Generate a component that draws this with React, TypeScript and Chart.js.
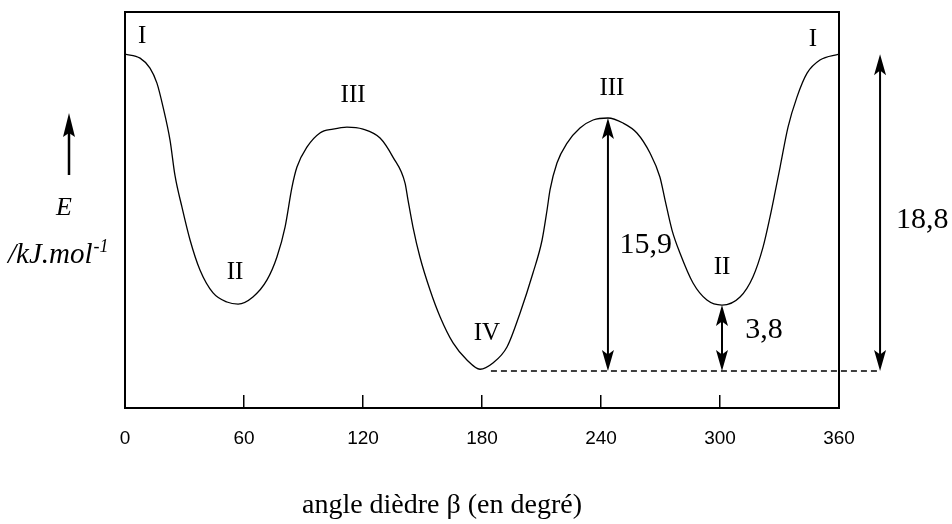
import React, { useEffect, useRef } from "react";
import { Chart, registerables } from "chart.js";

Chart.register(...registerables);

// dihedral angle beta (degrees)
const angles = [
  0, 7.6, 12.6, 16.1, 19.2, 22.7, 25.2, 28.7, 32.8, 37.8, 44.4, 51.4, 57.0,
  64.5, 71.6, 76.6, 80.7, 84.2, 86.7, 91.8, 98.3, 104.9, 111.9, 120.0, 128.6,
  135.1, 141.2, 142.7, 145.2, 148.7, 153.8, 158.9, 165.4, 172.4, 179.0, 185.5,
  192.6, 199.2, 205.7, 210.3, 212.8, 214.3, 217.8, 222.9, 229.4, 236.0, 243.5,
  251.1, 258.1, 264.7, 269.7, 272.3, 275.8, 279.8, 286.4, 293.4, 301.0, 310.1,
  316.6, 321.7, 325.2, 327.7, 330.3, 334.3, 338.8, 343.9, 350.4, 360,
];
// energy E (kJ/mol), relative to conformation IV
const energies = [
  18.8, 18.56, 17.97, 17.08, 15.66, 13.7, 11.6, 9.73, 7.77, 5.99, 4.63, 4.09,
  3.97, 4.39, 5.4, 6.76, 8.54, 10.91, 12.1, 13.29, 14.12, 14.35, 14.47, 14.35,
  13.82, 12.69, 11.15, 10.14, 8.54, 6.76, 4.8, 3.2, 1.66, 0.65, 0.1, 0.47,
  1.42, 3.44, 5.81, 7.77, 9.55, 10.74, 12.34, 13.52, 14.41, 14.89, 15.01,
  14.71, 14.12, 12.93, 11.51, 10.14, 8.36, 7.0, 5.22, 4.21, 3.91, 4.39, 5.58,
  7.35, 9.13, 10.56, 12.1, 14.47, 16.25, 17.67, 18.45, 18.8,
];
const tickValues = [0, 60, 120, 180, 240, 300, 360];

// conformation labels (text, angle, energy)
const confLabels = ["I", "II", "III", "IV", "III", "II", "I"];
const confAngles = [8.6, 55.5, 115, 182.5, 245.5, 301, 346.9];
const confEnergies = [19.87, 5.87, 16.37, 2.25, 16.79, 6.17, 19.69];

// energy differences (label, arrow angle, top energy, label angle, label energy)
const gapLabels = ["15,9", "3,8", "18,8"];
const gapAngles = [243.5, 301.0, 380.7];
const gapTops = [15.01, 3.91, 18.8];
const gapLabelAngles = [262.6, 322.2, 402.0];
const gapLabelEnergies = [7.47, 2.43, 8.96];

const SERIF = "'Liberation Serif', 'Times New Roman', serif";

function head(ctx: CanvasRenderingContext2D, x: number, y: number, dir: number) {
  // dir = -1 arrow pointing up (tip at y), +1 pointing down
  const len = 21;
  const half = 6;
  ctx.beginPath();
  ctx.moveTo(x, y);
  ctx.lineTo(x - half, y - dir * len);
  ctx.lineTo(x, y - dir * len * 0.78);
  ctx.lineTo(x + half, y - dir * len);
  ctx.closePath();
  ctx.fill();
}

function doubleArrow(ctx: CanvasRenderingContext2D, x: number, yTop: number, yBot: number) {
  ctx.beginPath();
  ctx.moveTo(x, yTop + 10);
  ctx.lineTo(x, yBot - 10);
  ctx.stroke();
  head(ctx, x, yTop, -1);
  head(ctx, x, yBot, 1);
}

const annotPlugin = {
  id: "annot",
  afterDraw(chart: any) {
    const ctx: CanvasRenderingContext2D = chart.ctx;
    const xs = chart.scales.x;
    const ys = chart.scales.y;
    const ca = chart.chartArea;
    ctx.save();
    // frame
    ctx.strokeStyle = "#000";
    ctx.lineWidth = 2;
    ctx.strokeRect(ca.left, ca.top, ca.right - ca.left, ca.bottom - ca.top);

    // dashed reference line at E = 0
    const y0 = ys.getPixelForValue(0);
    ctx.setLineDash([6, 4]);
    ctx.lineWidth = 1.5;
    ctx.beginPath();
    ctx.moveTo(xs.getPixelForValue(184.5), y0);
    ctx.lineTo(xs.getPixelForValue(gapAngles[2]), y0);
    ctx.stroke();
    ctx.setLineDash([]);

    // double arrows
    ctx.lineWidth = 2;
    ctx.fillStyle = "#000";
    for (let i = 0; i < gapAngles.length; i++) {
      const x = xs.getPixelForValue(gapAngles[i]);
      doubleArrow(ctx, x, ys.getPixelForValue(gapTops[i]), y0);
    }

    // gap labels
    ctx.font = `30px ${SERIF}`;
    ctx.textAlign = "center";
    ctx.textBaseline = "middle";
    for (let i = 0; i < gapLabels.length; i++) {
      ctx.fillText(
        gapLabels[i],
        xs.getPixelForValue(gapLabelAngles[i]),
        ys.getPixelForValue(gapLabelEnergies[i])
      );
    }

    // conformation labels
    ctx.font = `25px ${SERIF}`;
    for (let i = 0; i < confLabels.length; i++) {
      ctx.fillText(
        confLabels[i],
        xs.getPixelForValue(confAngles[i]),
        ys.getPixelForValue(confEnergies[i])
      );
    }

    // y axis label with arrow
    const ax = 69;
    ctx.lineWidth = 2.5;
    ctx.beginPath();
    ctx.moveTo(ax, 175);
    ctx.lineTo(ax, 128);
    ctx.stroke();
    ctx.beginPath();
    ctx.moveTo(ax, 113);
    ctx.lineTo(ax - 6, 137);
    ctx.lineTo(ax, 133);
    ctx.lineTo(ax + 6, 137);
    ctx.closePath();
    ctx.fill();

    ctx.font = `italic 26px ${SERIF}`;
    ctx.textAlign = "center";
    ctx.textBaseline = "alphabetic";
    ctx.fillText("E", 64, 215);
    ctx.textAlign = "left";
    ctx.font = `italic 29px ${SERIF}`;
    const main = "/kJ.mol";
    ctx.fillText(main, 8, 263);
    const w = ctx.measureText(main).width;
    ctx.font = `italic 18px ${SERIF}`;
    ctx.fillText("-1", 8 + w + 1, 252);

    // x axis title
    ctx.font = `28px ${SERIF}`;
    ctx.textAlign = "center";
    ctx.textBaseline = "alphabetic";
    ctx.fillText("angle dièdre β (en degré)", 442, 513);
    ctx.restore();
  },
};

export default function App() {
  const ref = useRef<HTMLCanvasElement>(null);
  useEffect(() => {
    document.body.style.margin = "0";
    const chart = new Chart(ref.current!, {
      type: "line",
      data: {
        datasets: [
          {
            data: angles.map((a, i) => ({ x: a, y: energies[i] })),
            borderColor: "#000",
            borderWidth: 1.3,
            pointRadius: 0,
            cubicInterpolationMode: "monotone",
            fill: false,
          },
        ],
      },
      options: {
        animation: false,
        responsive: false,
        events: [],
        layout: { padding: { left: 125, right: 113, top: 12, bottom: 0 } },
        plugins: { legend: { display: false }, tooltip: { enabled: false } },
        scales: {
          x: {
            type: "linear",
            min: 0,
            max: 360,
            afterBuildTicks: (scale: any) => {
              scale.ticks = tickValues.map((v) => ({ value: v }));
            },
            afterFit: (scale: any) => {
              scale.height = 116;
            },
            border: { display: false },
            grid: {
              display: true,
              drawOnChartArea: false,
              drawTicks: true,
              tickLength: -13,
              color: "#000",
              lineWidth: 1.5,
            },
            ticks: {
              color: "#000",
              padding: 32,
              maxRotation: 0,
              font: { family: "'Liberation Sans', Arial, sans-serif", size: 19 },
            },
          },
          y: {
            display: false,
            min: -2.2,
            max: 21.3,
          },
        },
      },
      plugins: [annotPlugin],
    } as any);
    return () => chart.destroy();
  }, []);
  return (
    <div style={{ width: 952, height: 524 }}>
      <canvas ref={ref} width={952} height={524} />
    </div>
  );
}
